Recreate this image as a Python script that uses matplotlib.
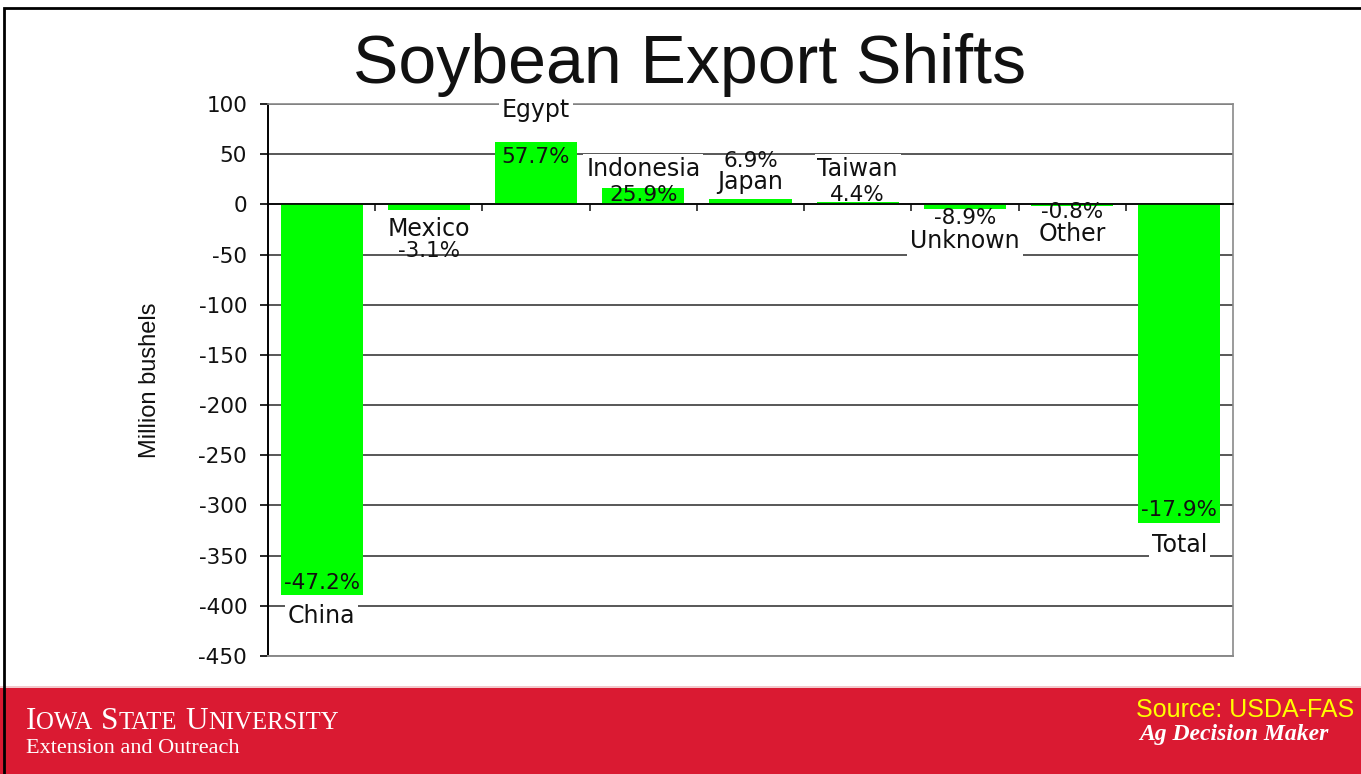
import matplotlib
matplotlib.use("Agg")
import matplotlib.pyplot as plt
from matplotlib.patches import Rectangle
from matplotlib.offsetbox import TextArea, HPacker, VPacker, AnchoredOffsetbox

# data (million bushels, change vs. last year)
countries = ["China", "Mexico", "Egypt", "Indonesia", "Japan", "Taiwan",
             "Unknown", "Other", "Total"]
change_mbu = [-389, -5.3, 62, 16, 5, 2, -4.5, -1.7, -317]
pct_change = [-47.2, -3.1, 57.7, 25.9, 6.9, 4.4, -8.9, -0.8, -17.9]
y_ticks = list(range(100, -451, -50))

# where the data labels sit (data units), as placed on the slide
name_y = [-410, -25, 94, 35, 22, 35, -37, -30, -339]
pct_y = [-377, -46, 47, 9, 43, 9, -14, -8, -305]

W, H = 1361, 774
GREEN = "#00ff00"
RED = "#da1a32"

fig = plt.figure(figsize=(W / 100, H / 100), dpi=100)
fig.patch.set_facecolor("white")

# footer band
fig.add_artist(Rectangle((0, 0), 1, 86 / H, transform=fig.transFigure,
                         facecolor=RED, edgecolor="none", zorder=0))
fig.add_artist(Rectangle((0, 86 / H), 1, 2 / H, transform=fig.transFigure,
                         facecolor="#f2c8cc", edgecolor="none", zorder=0))
# slide outline
fig.add_artist(Rectangle((4 / W, -0.02), 1.2, 1 - 8 / H + 0.02,
                         transform=fig.transFigure, facecolor="none",
                         edgecolor="black", lw=2, zorder=5))

fig.text(689.5 / W, 1 - 83 / H, "Soybean Export Shifts", ha="center",
         va="baseline", fontsize=49, family="Liberation Sans", color="#111111")

ax = fig.add_axes([268 / W, 1 - 656 / H, 965 / W, 552 / H])
x = range(len(countries))
ax.bar(x, change_mbu, width=0.765, color=GREEN, zorder=2)

ax.set_xlim(-0.5, len(countries) - 0.5)
ax.set_ylim(-450, 100)
ax.set_yticks(y_ticks)
ax.set_yticklabels([str(t) for t in y_ticks], fontsize=15.5,
                   family="DejaVu Sans", color="#111111")
ax.set_xticks([i + 0.5 for i in range(len(countries) - 1)])
ax.set_xticklabels([])
ax.tick_params(axis="y", direction="out", length=6, width=1.2, pad=9,
               color="black")
ax.tick_params(axis="x", direction="out", length=5, width=1.2, color="#222")

ax.set_axisbelow(True)
ax.yaxis.grid(True, color="#2a2a2a", lw=1.1)
ax.spines["bottom"].set_position(("data", 0))
ax.spines["bottom"].set_color("black")
ax.spines["bottom"].set_linewidth(1.2)
ax.spines["bottom"].set_zorder(3)
ax.spines["left"].set_color("black")
ax.spines["left"].set_linewidth(1.4)
for side in ("top", "right"):
    ax.spines[side].set_color("#8a8a8a")
    ax.spines[side].set_linewidth(1.2)
ax.axhline(-450, color="#8a8a8a", lw=1.4, zorder=3, clip_on=False)

ax.set_ylabel("Million bushels", fontsize=17, family="Liberation Sans",
              color="#111111")
ax.yaxis.set_label_coords(-0.111, 0.5)

for i, name in enumerate(countries):
    ax.text(i, name_y[i], name, ha="center", va="center", fontsize=17,
            family="DejaVu Sans", color="#111111", zorder=4,
            bbox=dict(boxstyle="square,pad=0.12", facecolor="white",
                      edgecolor="none"))
    ax.text(i, pct_y[i], f"{pct_change[i]:.1f}%", ha="center", va="center",
            fontsize=15.5, family="DejaVu Sans", color="#111111", zorder=5)


# footer: Iowa State wordmark in small caps
def small_caps(text, big, small):
    words = []
    for word in text.split():
        parts = [TextArea(word[0], textprops=dict(size=big, color="white",
                                                   family="Liberation Serif"))]
        if len(word) > 1:
            parts.append(TextArea(word[1:], textprops=dict(
                size=small, color="white", family="Liberation Serif")))
        words.append(HPacker(children=parts, align="baseline", pad=0, sep=0))
    return HPacker(children=words, align="baseline", pad=0, sep=6)


wordmark = VPacker(children=[
    small_caps("Iowa State University".upper(), 22.5, 17.8),
    TextArea("Extension and Outreach", textprops=dict(
        size=16, color="white", family="Liberation Serif")),
], align="left", pad=0, sep=2)
fig.add_artist(AnchoredOffsetbox(loc="lower left", child=wordmark,
                                 bbox_to_anchor=(26 / W, 1 - 758 / H),
                                 bbox_transform=fig.transFigure,
                                 frameon=False, pad=0, borderpad=0))

fig.text(1136 / W, 1 - 717 / H, "Source: USDA-FAS", ha="left", va="baseline",
         fontsize=18, family="Liberation Sans", color="#ffff00")
fig.text(1139 / W, 1 - 740 / H, "Ag Decision Maker", ha="left", va="baseline",
         fontsize=17, family="Liberation Serif", weight="bold", style="italic",
         color="white")

fig.savefig("out.png", dpi=100)
